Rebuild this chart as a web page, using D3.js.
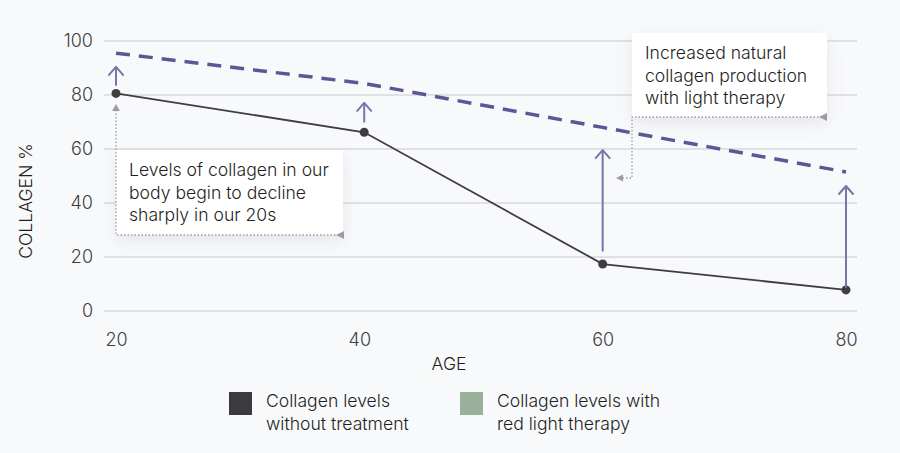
<!DOCTYPE html>
<html>
<head>
<meta charset="utf-8">
<script src="https://cdn.jsdelivr.net/npm/d3@7"></script>
<style>
  html, body { margin: 0; padding: 0; background: #f8f9fb; }
  svg { display: block; font-family: Inter, "Open Sans", sans-serif; font-weight: 300; }
</style>
</head>
<body>
<svg id="chart" width="900" height="453"></svg>
<script>
// ages on the x axis
const ageTicks = [20, 40, 60, 80];
const pointAges = [20, 40.4, 60, 80];
const yTicks = [0, 20, 40, 60, 80, 100];

// collagen %
const withoutTreatment = [80.6, 66.2, 17.4, 7.8];
const withTherapy = [95.5, 84.3, 68, 51.5];

// arrows between the two series (start / tip values)
const arrowFrom = [83.7, 70.1, 22.3, 8.9];
const arrowTo = [90.4, 77.1, 59.6, 46.3];

const note1 = ["Levels of collagen in our", "body begin to decline", "sharply in our 20s"];
const note2 = ["Increased natural", "collagen production", "with light therapy"];

const legendItems = [
    { lines: ["Collagen levels", "without treatment"], color: "#3c3a3c" },
    { lines: ["Collagen levels with", "red light therapy"], color: "#9bb09a" }
];

const svg = d3.select("#chart");
const width = 900, height = 453;
const fontSize = "17.6px";
const textColor = "#1f1f23";

svg.append("rect").attr("width", width).attr("height", height).attr("fill", "#f8f9fb");

const defs = svg.append("defs");
const shadow = defs.append("filter").attr("id", "shadow")
    .attr("x", "-20%").attr("y", "-20%").attr("width", "140%").attr("height", "160%");
shadow.append("feDropShadow")
    .attr("dx", 0).attr("dy", 6).attr("stdDeviation", 8)
    .attr("flood-color", "#8a90a8").attr("flood-opacity", 0.18);

const x = d3.scaleLinear().domain([20, 80]).range([116, 846]);
const y = d3.scaleLinear().domain([0, 100]).range([311, 41]);

// grid
svg.append("g")
    .selectAll("line")
    .data(yTicks)
    .enter()
    .append("line")
    .attr("x1", 104).attr("x2", 857)
    .attr("y1", d => y(d)).attr("y2", d => y(d))
    .attr("stroke", "#c9c9cd").attr("stroke-width", 1);

// axes
const yAxis = svg.append("g")
    .attr("transform", "translate(93,0)")
    .call(d3.axisLeft(y).tickValues(yTicks).tickSize(0).tickPadding(0));
const xAxis = svg.append("g")
    .attr("transform", "translate(0,329)")
    .call(d3.axisBottom(x).tickValues(ageTicks).tickSize(0).tickPadding(0));

[xAxis, yAxis].forEach(g => {
    g.select(".domain").remove();
    g.selectAll("text")
        .style("font-family", "Inter, sans-serif")
        .style("font-weight", 300)
        .style("font-size", "18px")
        .attr("fill", "#3e3e43");
});
xAxis.selectAll("text").attr("dy", "0.95em");

svg.append("text")
    .attr("x", 449).attr("y", 370)
    .attr("text-anchor", "middle")
    .style("font-size", fontSize)
    .attr("fill", textColor)
    .text("AGE");

svg.append("text")
    .attr("transform", "translate(32,201) rotate(-90)")
    .attr("text-anchor", "middle")
    .style("font-size", fontSize)
    .attr("fill", textColor)
    .text("COLLAGEN %");

// dashed series (with therapy)
const line = d3.line().x(d => x(d[0])).y(d => y(d[1]));

svg.append("path")
    .datum(pointAges.map((a, i) => [a, withTherapy[i]]))
    .attr("d", line)
    .attr("fill", "none")
    .attr("stroke", "#5d5596")
    .attr("stroke-width", 3.5)
    .attr("stroke-dasharray", "14 9");

// solid series (without treatment)
svg.append("path")
    .datum(pointAges.map((a, i) => [a, withoutTreatment[i]]))
    .attr("d", line)
    .attr("fill", "none")
    .attr("stroke", "#3d3d42")
    .attr("stroke-width", 1.8);

svg.append("g")
    .selectAll("circle")
    .data(withoutTreatment)
    .enter()
    .append("circle")
    .attr("cx", (d, i) => x(pointAges[i]))
    .attr("cy", d => y(d))
    .attr("r", 4.5)
    .attr("fill", "#3d3d42");

// arrows
const arrows = svg.append("g")
    .attr("stroke", "#7b74aa").attr("stroke-width", 2)
    .attr("fill", "none").attr("stroke-linecap", "round");

pointAges.forEach((a, i) => {
    const ax = x(a), y0 = y(arrowFrom[i]), y1 = y(arrowTo[i]);
    arrows.append("line").attr("x1", ax).attr("x2", ax).attr("y1", y0).attr("y2", y1 + 1);
    arrows.append("path")
        .attr("d", `M${ax - 7},${y1 + 8} L${ax},${y1} L${ax + 7},${y1 + 8}`)
        .attr("stroke-linejoin", "round");
});

// annotation boxes
function note(lines, bx, by, bw, bh) {
    svg.append("rect")
        .attr("x", bx).attr("y", by)
        .attr("width", bw).attr("height", bh)
        .attr("fill", "#ffffff")
        .attr("filter", "url(#shadow)");
    svg.append("g")
        .selectAll("text")
        .data(lines)
        .enter()
        .append("text")
        .attr("x", bx + 13)
        .attr("y", (d, i) => by + 26 + i * 22.5)
        .style("font-size", fontSize)
        .attr("fill", textColor)
        .text(d => d);
}

note(note1, 116, 150, 227, 85);
note(note2, 632, 33, 195, 84);

const dotted = svg.append("g")
    .attr("stroke", "#9c9ca2").attr("stroke-width", 1.3)
    .attr("stroke-dasharray", "1.5 2").attr("fill", "none");

// note 1 connector: bottom edge + up to the first point
dotted.append("path").attr("d", `M339,235 H116 V111`);
// note 2 connector: bottom edge + down and left
dotted.append("path").attr("d", `M822,117 H632 V178 H622`);

const tri = svg.append("g").attr("fill", "#9c9ca2");
tri.append("path").attr("d", "M336,235 L344,231 L344,239 Z");
tri.append("path").attr("d", "M116,104 L112,111 L120,111 Z");
tri.append("path").attr("d", "M819,117 L827,113 L827,121 Z");
tri.append("path").attr("d", "M616,178 L623,174.5 L623,181.5 Z");

// legend
const legend = svg.append("g");
legendItems.forEach((d, i) => {
    const lx = i === 0 ? 229 : 460;
    legend.append("rect")
        .attr("x", lx).attr("y", 392)
        .attr("width", 23).attr("height", 23)
        .attr("fill", d.color);
    legend.append("g")
        .selectAll("text")
        .data(d.lines)
        .enter()
        .append("text")
        .attr("x", lx + 37)
        .attr("y", (t, j) => 407 + j * 23)
        .style("font-size", fontSize)
        .attr("fill", textColor)
        .text(t => t);
});
</script>
</body>
</html>
